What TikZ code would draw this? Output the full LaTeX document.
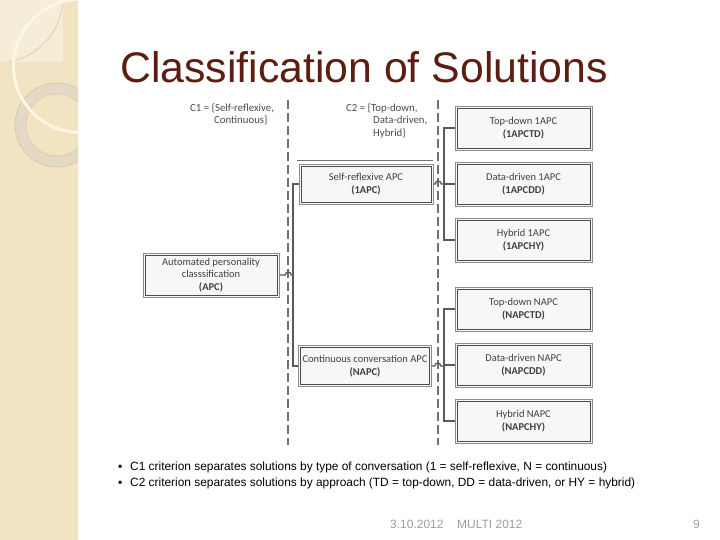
\documentclass[tikz,border=0pt]{standalone}
\usepackage{fontspec}
\setmainfont{Liberation Sans}
\newfontfamily\boxfont{Carlito}
\definecolor{bandcol}{HTML}{F2E3C2}
\definecolor{lightsq}{HTML}{F6EDD8}
\definecolor{arcline}{HTML}{D8C7A0}
\definecolor{ringcol}{HTML}{E3D9C4}
\definecolor{ringedge}{HTML}{D2C4A4}
\definecolor{whitearc}{HTML}{FCF6E4}
\definecolor{titlecol}{HTML}{5C1E12}
\definecolor{footcol}{HTML}{A39E94}
\definecolor{conncol}{HTML}{5A5A5A}
\definecolor{dashcol}{HTML}{707070}
\tikzset{
  cbox/.style={draw=black!45, line width=0.5pt, fill=black!3, inner sep=0pt,
    align=center, text=black!75, font=\boxfont\fontsize{10.5}{12.5}\selectfont,
    path picture={\draw[black!70, line width=0.7pt]
      ([shift={(2pt,-2pt)}]path picture bounding box.north west) rectangle
      ([shift={(-2pt,2pt)}]path picture bounding box.south east);}},
  rbox/.style={cbox, minimum width=137pt, minimum height=44pt},
  conn/.style={draw=conncol, line width=1.3pt},
  divider/.style={draw=dashcol, line width=1.4pt, dash pattern=on 9pt off 4pt},
  crit/.style={font=\boxfont\fontsize{10.8}{12.8}\selectfont, text=black!70, inner sep=0pt, align=left},
  bul/.style={font=\fontsize{11.9}{14}\selectfont, inner sep=0pt, anchor=base west},
  foot/.style={font=\fontsize{12}{14}\selectfont, text=footcol, inner sep=0pt, anchor=base west}
}
\begin{document}
\begin{tikzpicture}[x=1pt,y=-1pt]
\useasboundingbox (0,0) rectangle (720,540);
\fill[white] (0,0) rectangle (720,540);
% left band decoration
\fill[bandcol] (0,0) rectangle (78,540);
\fill[lightsq] (0,0) rectangle (63,62);
\begin{scope}
  \clip (0,0) rectangle (63,62);
  \draw[arcline, line width=0.6pt] (-3,-3) circle (66);
\end{scope}
\begin{scope}
  \clip (0,0) rectangle (78,540);
  \fill[ringcol, even odd rule] (57,125) circle (42) (57,125) circle (31);
  \draw[ringedge, line width=0.6pt] (57,125) circle (42);
  \draw[ringedge, line width=0.4pt] (57,125) circle (31);
  \draw[whitearc, line width=3pt] (80,66) circle (66.5);
\end{scope}
% title
\node[anchor=base west, inner sep=0pt, text=titlecol, font=\fontsize{42.8}{48}\selectfont] (title) at (120,83) {Classification of Solutions};
% dividers
\coordinate (d1a) at (288,100); \coordinate (d1b) at (288,445);
\coordinate (d2a) at (438,100); \coordinate (d2b) at (438,445);
\draw[divider] (d1a) -- (d1b);
\draw[divider] (d2a) -- (d2b);
% criteria labels
\node[crit, anchor=north west] (c1) at (190,103) {C1 = \{Self-reflexive,\\\hspace*{24pt}Continuous\}};
\node[crit, anchor=north west] (c2) at (346,103) {C2 = \{Top-down,\\\hspace*{27pt}Data-driven,\\\hspace*{27pt}Hybrid\}};
% boxes
\node[cbox, minimum width=136pt, minimum height=44pt] (apc) at (211,275) {Automated personality\\classsification\\\textbf{(APC)}};
\coordinate (topline1) at (297,160); \coordinate (topline2) at (433,160);
\draw[black!55, line width=0.5pt] (topline1) -- (topline2);
\node[cbox, minimum width=134pt, minimum height=40pt] (srapc) at (366,184) {Self-reflexive APC\\\textbf{(1APC)}};
\node[cbox, minimum width=133pt, minimum height=41pt] (napc) at (365,366) {Continuous conversation APC\\\textbf{(NAPC)}};
\node[rbox] (td1) at (523.5,128) {Top-down 1APC\\\textbf{(1APCTD)}};
\node[rbox] (dd1) at (523.5,184) {Data-driven 1APC\\\textbf{(1APCDD)}};
\node[rbox] (hy1) at (523.5,240) {Hybrid 1APC\\\textbf{(1APCHY)}};
\node[rbox] (tdn) at (523.5,309) {Top-down NAPC\\\textbf{(NAPCTD)}};
\node[rbox] (ddn) at (523.5,365) {Data-driven NAPC\\\textbf{(NAPCDD)}};
\node[rbox] (hyn) at (523.5,421) {Hybrid NAPC\\\textbf{(NAPCHY)}};
% trunks
\coordinate (t1) at (293,0);
\coordinate (t2) at (444,0);
% connectors
\draw[conn] (apc.east) -- ++(6,0) arc[start angle=180, end angle=360, radius=3] -- (apc.east -| t1);
\draw[conn] (srapc.west) -- (srapc.west -| t1) -- (napc.west -| t1) -- (napc.west);
\draw[conn] (srapc.east) -- ++(2,0) arc[start angle=180, end angle=360, radius=3] -- (srapc.east -| t2);
\draw[conn] (td1.west) -- (td1.west -| t2) -- (hy1.west -| t2) -- (hy1.west);
\draw[conn] (dd1.west) -- (dd1.west -| t2);
\draw[conn] (napc.east) -- ++(3,0) arc[start angle=180, end angle=360, radius=3] -- (napc.east -| t2);
\draw[conn] (tdn.west) -- (tdn.west -| t2) -- (hyn.west -| t2) -- (hyn.west);
\draw[conn] (ddn.west) -- (ddn.west -| t2);
% bullets
\node[bul] (b1) at (118,470) {▪};
\node[bul] (b2) at (118,486) {▪};
\node[bul] (l1) at (130,470) {C1 criterion separates solutions by type of conversation (1 = self-reflexive, N = continuous)};
\node[bul] (l2) at (130,486) {C2 criterion separates solutions by approach (TD = top-down, DD = data-driven, or HY = hybrid)};
% footer
\node[foot] (date) at (390,528) {3.10.2012};
\node[foot] (conf) at (457,528) {MULTI 2012};
\node[foot] (page) at (693,528) {9};
\end{tikzpicture}
\end{document}
